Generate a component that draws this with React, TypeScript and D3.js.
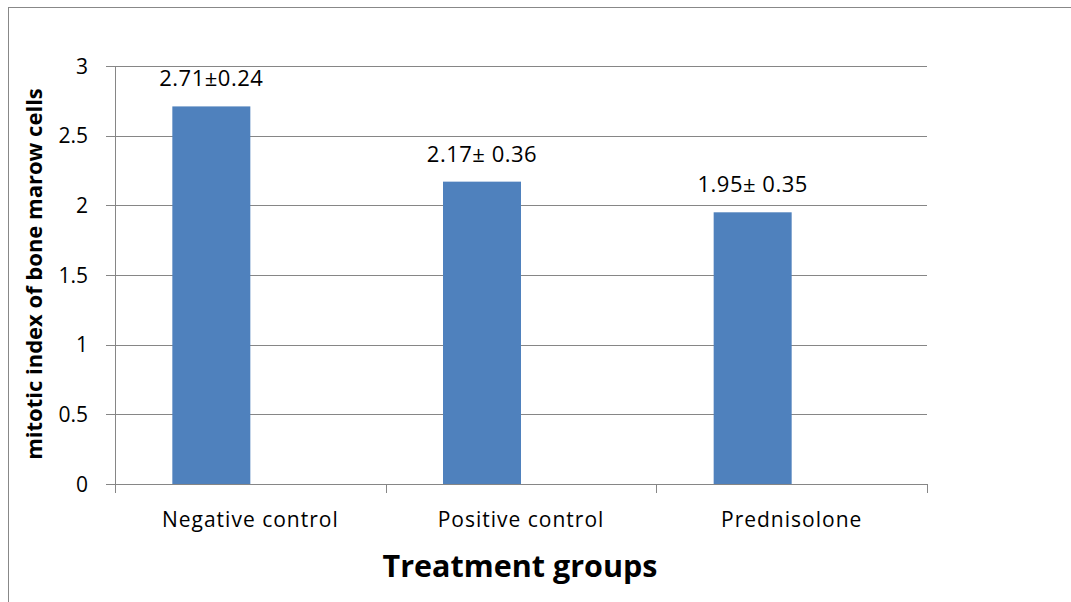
import React from "react";
import * as d3 from "d3";

const categories = ["Negative control", "Positive control", "Prednisolone"];
const values = [2.71, 2.17, 1.95];
const valueLabels = ["2.71±0.24", "2.17± 0.36", "1.95± 0.35"];
const yTicks = [0, 0.5, 1, 1.5, 2, 2.5, 3];
const seriesKeys = ["mean", "blank"];

const W = 1071;
const H = 602;
const FONT = "'Open Sans', sans-serif";

export default function App() {
  const left = 115, right = 927, top = 66, bottom = 484;
  const y = d3.scaleLinear().domain([0, 3]).range([bottom, top]);
  const x = d3.scaleBand<string>().domain(categories).range([left, right]).paddingInner(0).paddingOuter(0);
  const sub = d3.scaleBand<string>().domain(seriesKeys).range([0, x.bandwidth()]).paddingInner(0).paddingOuter(0.735);
  const grid = "#868686";
  const boundaries = [...categories.map((c) => x(c) as number), right];

  return (
    <svg width={W} height={H} style={{ position: "absolute", left: 0, top: 0, background: "#fff" }}>
      <rect x={8.5} y={7.5} width={W + 10} height={H + 10} fill="none" stroke="#888" strokeWidth={1} />
      {yTicks.map((t) => (
        <g key={t}>
          {t > 0 && <line x1={left} x2={right} y1={Math.round(y(t)) + 0.5} y2={Math.round(y(t)) + 0.5} stroke={grid} strokeWidth={1} />}
          <line x1={106} x2={left} y1={Math.round(y(t)) + 0.5} y2={Math.round(y(t)) + 0.5} stroke={grid} strokeWidth={1} />
          <text x={88} y={y(t)} dy="0.36em" textAnchor="end" fontFamily={FONT} fontSize={21} fill="#000">
            {String(t)}
          </text>
        </g>
      ))}
      {categories.map((c, i) => {
        const bx = (x(c) as number) + (sub("mean") as number);
        return (
          <g key={c}>
            <rect x={bx} y={y(values[i])} width={sub.bandwidth()} height={bottom - y(values[i])} fill="#4F81BD" />
            <text x={bx + sub.bandwidth() / 2} y={y(values[i]) - 20} textAnchor="middle" fontFamily={FONT} fontSize={22} letterSpacing={0.5} fill="#000">
              {valueLabels[i]}
            </text>
            <text x={(x(c) as number) + x.bandwidth() / 2} y={526.5} textAnchor="middle" fontFamily={FONT} fontSize={21} letterSpacing={1} fill="#000">
              {c}
            </text>
          </g>
        );
      })}
      <line x1={left + 0.5} x2={left + 0.5} y1={top} y2={bottom} stroke={grid} strokeWidth={1} />
      <line x1={left} x2={right} y1={bottom + 0.5} y2={bottom + 0.5} stroke={grid} strokeWidth={1} />
      {boundaries.map((b, i) => (
        <line key={i} x1={Math.round(b) + 0.5} x2={Math.round(b) + 0.5} y1={bottom} y2={bottom + 9} stroke={grid} strokeWidth={1} />
      ))}
      <text x={520} y={577} textAnchor="middle" fontFamily={FONT} fontWeight="bold" fontSize={30.5} fill="#000">
        Treatment groups
      </text>
      <text transform={`translate(42, 274) rotate(-90)`} textAnchor="middle" fontFamily={FONT} fontWeight="bold" fontSize={22} fill="#000">
        mitotic index of bone marow cells
      </text>
    </svg>
  );
}
